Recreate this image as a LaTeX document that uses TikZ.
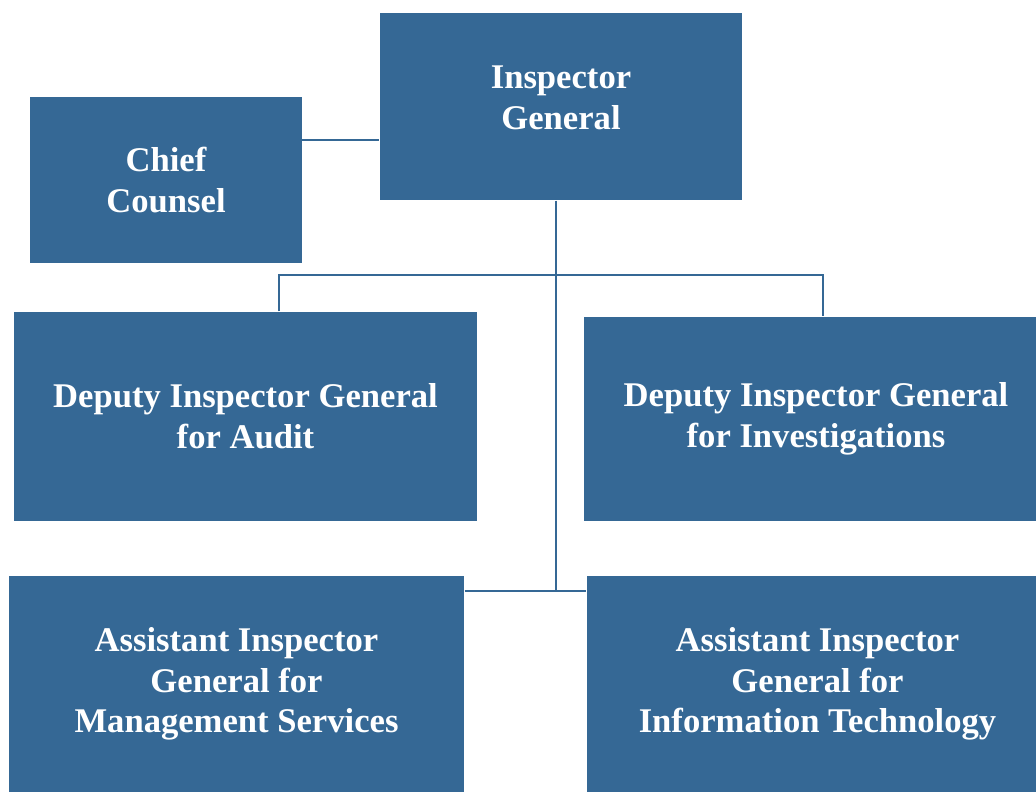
\documentclass[tikz,border=0pt]{standalone}
\usepackage{fontspec}
\setmainfont{Liberation Serif}
\usepackage{tikz}
\definecolor{igblue}{RGB}{53,104,149}
\newcommand{\rbox}[1]{\hspace*{0.12cm}\begin{tabular}{@{}c@{}}#1\end{tabular}}
\tikzset{orgbox/.style={fill=igblue, text=white, align=center, inner sep=0pt,
		font=\fontsize{9.85}{11.6}\selectfont\bfseries},
	orgline/.style={draw=igblue, line width=0.8pt}}

\begin{document}
\begin{tikzpicture}
				\useasboundingbox (0,0) rectangle (10.36,7.92);
				
				\node[orgbox, minimum width=3.62cm, minimum height=1.87cm, text depth=0.17cm] (ig) at (5.61, 6.855) {Inspector\\General};
				\node[orgbox, minimum width=2.72cm, minimum height=1.66cm] (cc) at (1.66, 6.12) {Chief\\Counsel};
				
				\node[orgbox, minimum width=4.63cm, minimum height=2.09cm] (daud) at (2.455, 3.755) {Deputy Inspector General\\for Audit};
				\node[orgbox, minimum width=4.52cm, minimum height=2.04cm] (dinv) at (8.10, 3.73) {\rbox{Deputy Inspector General\\for Investigations}};
				
				\node[orgbox, minimum width=4.55cm, minimum height=2.16cm] (ams) at (2.365, 1.08) {Assistant Inspector\\General for\\Management Services};
				\node[orgbox, minimum width=4.49cm, minimum height=2.16cm] (ait) at (8.115, 1.08) {\rbox{Assistant Inspector\\General for\\Information Technology}};
				
				\coordinate (cj) at (3.02, 6.52);
				\coordinate (b1) at (5.56, 5.17);
				\coordinate (b2) at (5.56, 2.01);
				\coordinate (h1) at (2.79, 5.17);
				\coordinate (h2) at (8.23, 5.17);
				
				\draw[orgline] (cj) -- (cj -| ig.west);
				\draw[orgline] (ig.south -| b1) -- (b2);
				\draw[orgline] (h1 |- daud.north) -- (h1) -- (h2) -- (h2 |- dinv.north);
				\draw[orgline] (ams.east |- b2) -- (ait.west |- b2);
				
\end{tikzpicture}
\end{document}
